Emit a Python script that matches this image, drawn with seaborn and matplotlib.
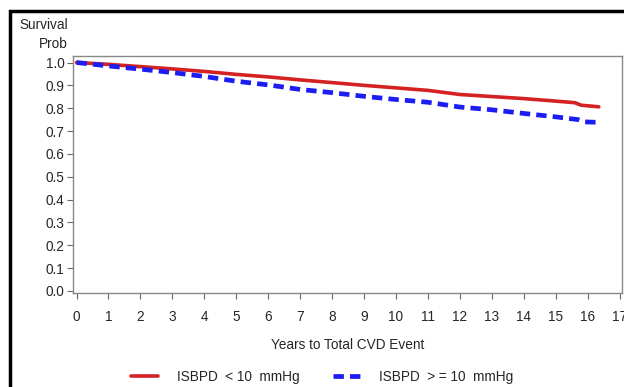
import pandas as pd
import matplotlib.pyplot as plt
import seaborn as sns
from matplotlib.patches import Rectangle
from matplotlib.lines import Line2D

# --- data ---
years_low = [0, 1, 2, 3, 4, 5, 6, 7, 8, 9, 10, 11, 12, 13, 14, 15, 15.6, 15.8, 16.35]
surv_low = [1.0, 0.992, 0.982, 0.972, 0.961, 0.948, 0.937, 0.924, 0.912, 0.900,
            0.889, 0.878, 0.860, 0.851, 0.842, 0.831, 0.824, 0.813, 0.806]
years_high = [0, 1, 2, 3, 4, 5, 6, 7, 8, 9, 10, 11, 12, 13, 14, 15, 15.7, 15.9, 16.35]
surv_high = [1.0, 0.985, 0.971, 0.956, 0.939, 0.918, 0.902, 0.882, 0.868, 0.852,
             0.838, 0.826, 0.805, 0.793, 0.777, 0.762, 0.750, 0.740, 0.738]
group_names = ["ISBPD  < 10  mmHg", "ISBPD  > = 10  mmHg"]
x_ticks = list(range(0, 18))
y_ticks = [0.0, 0.1, 0.2, 0.3, 0.4, 0.5, 0.6, 0.7, 0.8, 0.9, 1.0]

df = pd.concat([
    pd.DataFrame({"years": years_low, "surv": surv_low, "group": group_names[0]}),
    pd.DataFrame({"years": years_high, "surv": surv_high, "group": group_names[1]}),
])

sns.set_style("white")
plt.rcParams["font.family"] = ["Liberation Sans", "DejaVu Sans"]

fig = plt.figure(figsize=(6.24, 3.87), dpi=100)
ax = fig.add_axes([0.117, 0.243, 0.880, 0.612])

sns.lineplot(data=df, x="years", y="surv", hue="group", style="group",
             palette={group_names[0]: "#d42222", group_names[1]: "#1c1cf5"},
             dashes={group_names[0]: "", group_names[1]: (2.2, 1.3)},
             sort=False, estimator=None, ax=ax, legend=False)
ax.lines[0].set_linewidth(2.6)
ax.lines[1].set_linewidth(3.4)

ax.set_xlim(-0.11, 17.08)
ax.set_ylim(-0.009, 1.028)
ax.set_xticks(x_ticks)
ax.set_yticks(y_ticks)
ax.set_yticklabels([f"{v:.1f}" for v in y_ticks])
ax.tick_params(axis="both", labelsize=9.8, length=4, width=0.8, color="#666666",
               left=True, bottom=True, pad=2)
ax.tick_params(axis="x", pad=8)
for s in ax.spines.values():
    s.set_color("#888888")
    s.set_linewidth(1)
ax.set_xlabel("Years to Total CVD Event", fontsize=9.8, labelpad=10)
ax.set_ylabel("")

fig.text(68 / 624, 1 - 25 / 387, "Survival", ha="right", va="center", fontsize=9.8)
fig.text(68 / 624, 1 - 44 / 387, "Prob", ha="right", va="center", fontsize=9.8)

# legend at the bottom
handles = [Line2D([], [], color="#d42222", lw=2.6),
           Line2D([], [], color="#1c1cf5", lw=3.4, dashes=(2.2, 1.3))]
fig.legend(handles, group_names, loc="center", bbox_to_anchor=(322 / 624, 1 - 377 / 387),
           ncol=2, frameon=False, fontsize=9.8, handlelength=2.0, columnspacing=2.4,
           handletextpad=1.4)

# outer black frame
fig.patches.append(Rectangle((10 / 624, -0.1), 1.2, 1.0 - 11 / 387 + 0.1,
                             transform=fig.transFigure, fill=False,
                             edgecolor="black", linewidth=2.5))

fig.savefig("out.png", dpi=100)
